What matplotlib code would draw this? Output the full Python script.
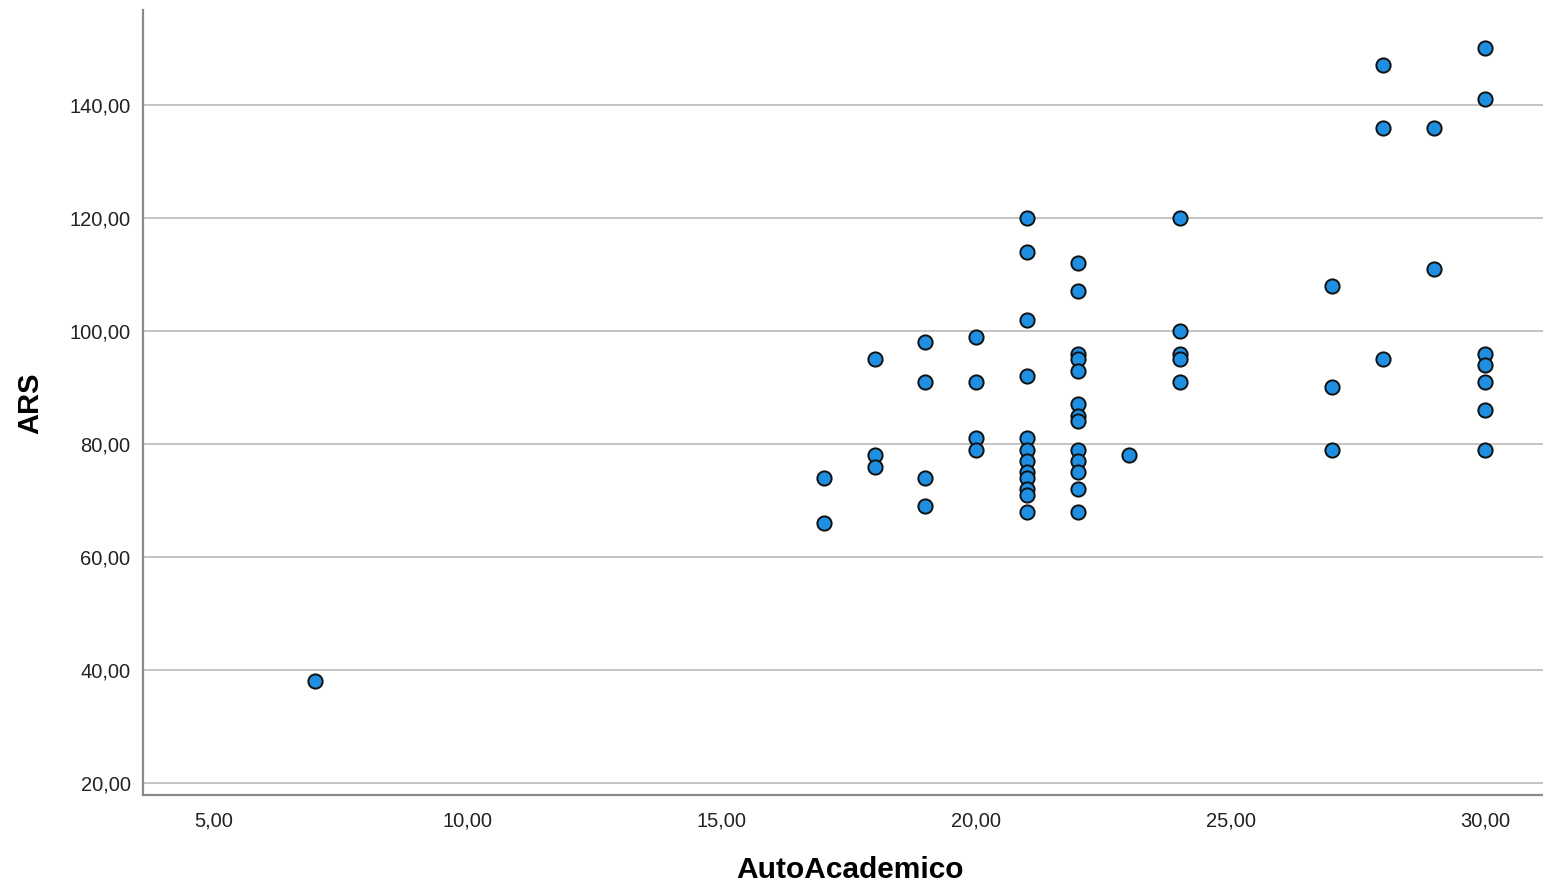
import matplotlib
matplotlib.use("Agg")
import matplotlib.pyplot as plt
from matplotlib.ticker import FuncFormatter, FixedLocator

# Data
auto_academico = [7,
                   17, 17,
                   18, 18, 18,
                   19, 19, 19, 19,
                   20, 20, 20, 20,
                   21, 21, 21, 21, 21, 21, 21, 21, 21, 21, 21, 21,
                   22, 22, 22, 22, 22, 22, 22, 22, 22, 22, 22, 22, 22,
                   23,
                   24, 24, 24, 24, 24,
                   27, 27, 27,
                   28, 28, 28,
                   29, 29,
                   30, 30, 30, 30, 30, 30, 30]
ars = [38,
       74, 66,
       95, 78, 76,
       98, 91, 74, 69,
       99, 91, 81, 79,
       120, 114, 102, 92, 81, 79, 77, 75, 74, 72, 71, 68,
       112, 107, 96, 95, 93, 87, 85, 84, 79, 77, 75, 72, 68,
       78,
       120, 100, 96, 95, 91,
       108, 90, 79,
       147, 136, 95,
       136, 111,
       150, 141, 96, 94, 91, 86, 79]

x_ticks = [5, 10, 15, 20, 25, 30]
y_ticks = [20, 40, 60, 80, 100, 120, 140]

plt.rcParams['font.family'] = ['Liberation Sans', 'DejaVu Sans']

fig = plt.figure(figsize=(15.43, 8.85), dpi=100)
ax = fig.add_axes([143/1543, 1 - 795/885, 1 - 143/1543, (795 - 10)/885])

ax.set_xlim(3.62, 31.14)
ax.set_ylim(17.88, 156.8)

ax.yaxis.set_major_locator(FixedLocator(y_ticks))
ax.xaxis.set_major_locator(FixedLocator(x_ticks))
fmt = FuncFormatter(lambda v, p: f"{v:.2f}".replace('.', ','))
ax.xaxis.set_major_formatter(fmt)
ax.yaxis.set_major_formatter(fmt)

ax.grid(axis='y', color='#c4c4c4', linewidth=1.4, zorder=0)
ax.set_axisbelow(True)

ax.scatter(auto_academico, ars, s=105, facecolor='#1e8fe1', edgecolor='#111111',
           linewidth=1.4, zorder=3)

for side in ['top', 'right']:
    ax.spines[side].set_visible(False)
for side in ['left', 'bottom']:
    ax.spines[side].set_color('#8a8a8a')
    ax.spines[side].set_linewidth(1.6)

ax.tick_params(axis='both', length=0, labelsize=14.5, colors='#222222')
ax.tick_params(axis='x', pad=12)
ax.tick_params(axis='y', pad=9)

ax.set_xlabel('AutoAcademico', fontsize=21.5, fontweight='bold')
ax.set_ylabel('ARS', fontsize=21, fontweight='bold')
ax.xaxis.set_label_coords((850 - 143) / 1400, (795 - 870) / 785)
ax.yaxis.set_label_coords((30 - 143) / 1400, (795 - 403) / 785)
ax.xaxis.label.set_va('center')
ax.yaxis.label.set_va('center')

fig.savefig('out.png', dpi=100, facecolor='white')
